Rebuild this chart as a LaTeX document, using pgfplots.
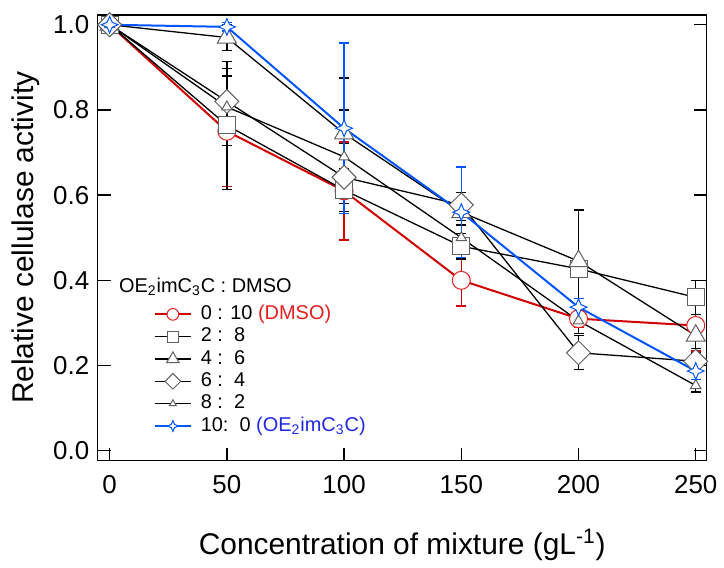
\documentclass[border=0pt]{standalone}
\usepackage{fontspec}
\setmainfont{Liberation Sans}
\usepackage{pgfplots}
\pgfplotsset{compat=1.18}
\definecolor{cred}{RGB}{210,0,0}
\definecolor{cblue}{RGB}{0,85,255}
\definecolor{tred}{RGB}{230,30,30}
\definecolor{tblue}{RGB}{30,40,230}
\definecolor{mgray}{RGB}{95,95,95}
\pgfdeclareplotmark{star4}{%
  \pgfpathmoveto{\pgfqpoint{0pt}{\pgfplotmarksize}}%
  \pgfpathlineto{\pgfqpoint{0.3\pgfplotmarksize}{0.3\pgfplotmarksize}}%
  \pgfpathlineto{\pgfqpoint{\pgfplotmarksize}{0pt}}%
  \pgfpathlineto{\pgfqpoint{0.3\pgfplotmarksize}{-0.3\pgfplotmarksize}}%
  \pgfpathlineto{\pgfqpoint{0pt}{-\pgfplotmarksize}}%
  \pgfpathlineto{\pgfqpoint{-0.3\pgfplotmarksize}{-0.3\pgfplotmarksize}}%
  \pgfpathlineto{\pgfqpoint{-\pgfplotmarksize}{0pt}}%
  \pgfpathlineto{\pgfqpoint{-0.3\pgfplotmarksize}{0.3\pgfplotmarksize}}%
  \pgfpathclose
  \pgfusepathqfillstroke
}
\begin{document}
\begin{tikzpicture}
\begin{axis}[
  scale only axis, width=305.5pt, height=223.5pt,
  xmin=-5.1, xmax=254.7, ymin=-0.023, ymax=1.023,
  xtick={0,50,100,150,200,250}, ytick={0,0.2,0.4,0.6,0.8,1.0},
  tick align=inside, xtick pos=bottom, ytick pos=both,
  major tick length=6.5pt,
  axis line style={line width=0.65pt},
  every tick/.style={line width=0.65pt, black},
  /pgf/number format/assume math mode=true,
  ticklabel style={font=\fontsize{13}{13}\selectfont},
  xticklabel style={yshift=-3.7pt},
  yticklabel style={xshift=-0.7pt, /pgf/number format/.cd, fixed, fixed zerofill, precision=1},
  xlabel={Concentration of mixture (gL\textsuperscript{-1})},
  ylabel={Relative cellulase activity},
  label style={font=\fontsize{15}{15}\selectfont},
  xlabel style={at={(axis description cs:0.5,-0.2103)}, anchor=base},
  ylabel style={at={(axis description cs:-0.1056,0.5)}, anchor=base},
  legend style={draw=none, fill=none, at={(axis description cs:0.0917,0.354)}, anchor=north west,
    font=\fontsize{10}{10}\selectfont, inner sep=0pt, row sep=0pt,
    nodes={inner sep=1pt, text height=7.2pt, text depth=2pt}},
  legend cell align=left,
  legend image code/.code={\draw[mark repeat=2,mark phase=2, every mark/.append style={scale=0.65}] plot coordinates {(0pt,0pt)(9pt,0pt)(18pt,0pt)}; \path (21.5pt,0pt);},
  error bars/error mark options={rotate=90, mark size=2.5pt, line width=0.65pt},
]
% 0:10 DMSO
\addplot[cred, line width=1pt, mark=*, mark size=4.5pt, mark options={draw=tred, fill=white, line width=0.5pt},
  error bars/.cd, y dir=both, y explicit, error bar style={line width=0.65pt, cred}]
  coordinates {(0,1.0)+-(0,0) (50,0.75)+-(0,0.13) (100,0.61)+-(0,0.115) (150,0.40)+-(0,0.06) (200,0.31)+-(0,0.02) (250,0.294)+-(0,0.06)};
\addlegendentry{0 : 10 \textcolor{tred}{(DMSO)}}
% 2:8
\addplot[black, line width=0.65pt, mark=square*, mark size=4.25pt, mark options={draw=mgray, fill=white, line width=0.5pt},
  error bars/.cd, y dir=both, y explicit, error bar style={line width=0.65pt, black}]
  coordinates {(0,1.0)+-(0,0) (50,0.764)+-(0,0.15) (100,0.612)+-(0,0.05) (150,0.48)+-(0,0.03) (200,0.427)+-(0,0.02) (250,0.36)+-(0,0.04)};
\addlegendentry{2 :\ \ 8}
% 4:6
\addplot[black, line width=0.65pt, mark=triangle*, mark size=5.5pt, mark options={draw=mgray, fill=white, line width=0.5pt},
  error bars/.cd, y dir=both, y explicit, error bar style={line width=0.65pt, black}]
  coordinates {(0,1.0)+-(0,0) (50,0.97)+-(0,0.03) (100,0.745)+-(0,0.13) (150,0.56)+-(0,0.03) (200,0.445)+-(0,0.12) (250,0.27)+-(0,0.03)};
\addlegendentry{4 :\ \ 6}
% 6:4
\addplot[black, line width=0.65pt, mark=square*, mark size=4.25pt, mark options={rotate=45, draw=mgray, fill=white, line width=0.5pt},
  error bars/.cd, y dir=both, y explicit, error bar style={line width=0.65pt, black}]
  coordinates {(0,1.0)+-(0,0) (50,0.82)+-(0,0.06) (100,0.642)+-(0,0.08) (150,0.577)+-(0,0.03) (200,0.23)+-(0,0.04) (250,0.21)+-(0,0.02)};
\addlegendentry{6 :\ \ 4}
% 8:2
\addplot[black, line width=0.65pt, mark=triangle*, mark size=3pt, mark options={draw=mgray, fill=white, line width=0.5pt},
  error bars/.cd, y dir=both, y explicit, error bar style={line width=0.65pt, black}]
  coordinates {(0,1.0)+-(0,0) (50,0.807)+-(0,0.09) (100,0.69)+-(0,0.11) (150,0.50)+-(0,0.04) (200,0.305)+-(0,0.03) (250,0.153)+-(0,0.015)};
\addlegendentry{8 :\ \ 2}
% 10:0
\addplot[cblue, line width=1pt, mark=star4, mark size=4.2pt, mark options={draw=cblue, fill=white, line width=0.5pt},
  error bars/.cd, y dir=both, y explicit, error bar style={line width=0.65pt, cblue}]
  coordinates {(0,1.0)+-(0,0) (50,0.995)+-(0,0.01) (100,0.757)+-(0,0.2) (150,0.56)+-(0,0.106) (200,0.337)+-(0,0.02) (250,0.187)+-(0,0.02)};
\addlegendentry{10:\ \ 0 \textcolor{tblue}{(OE\textsubscript{2}imC\textsubscript{3}C)}}
\node[anchor=base west, inner sep=0pt, font=\fontsize{10}{10}\selectfont] at (axis description cs:0.0344,0.377) {OE\textsubscript{2}imC\textsubscript{3}C : DMSO};
\end{axis}
\path ([shift={(-49pt,-50pt)}]current axis.south west) rectangle ([shift={(7.5pt,7.5pt)}]current axis.north east);
\end{tikzpicture}
\end{document}
